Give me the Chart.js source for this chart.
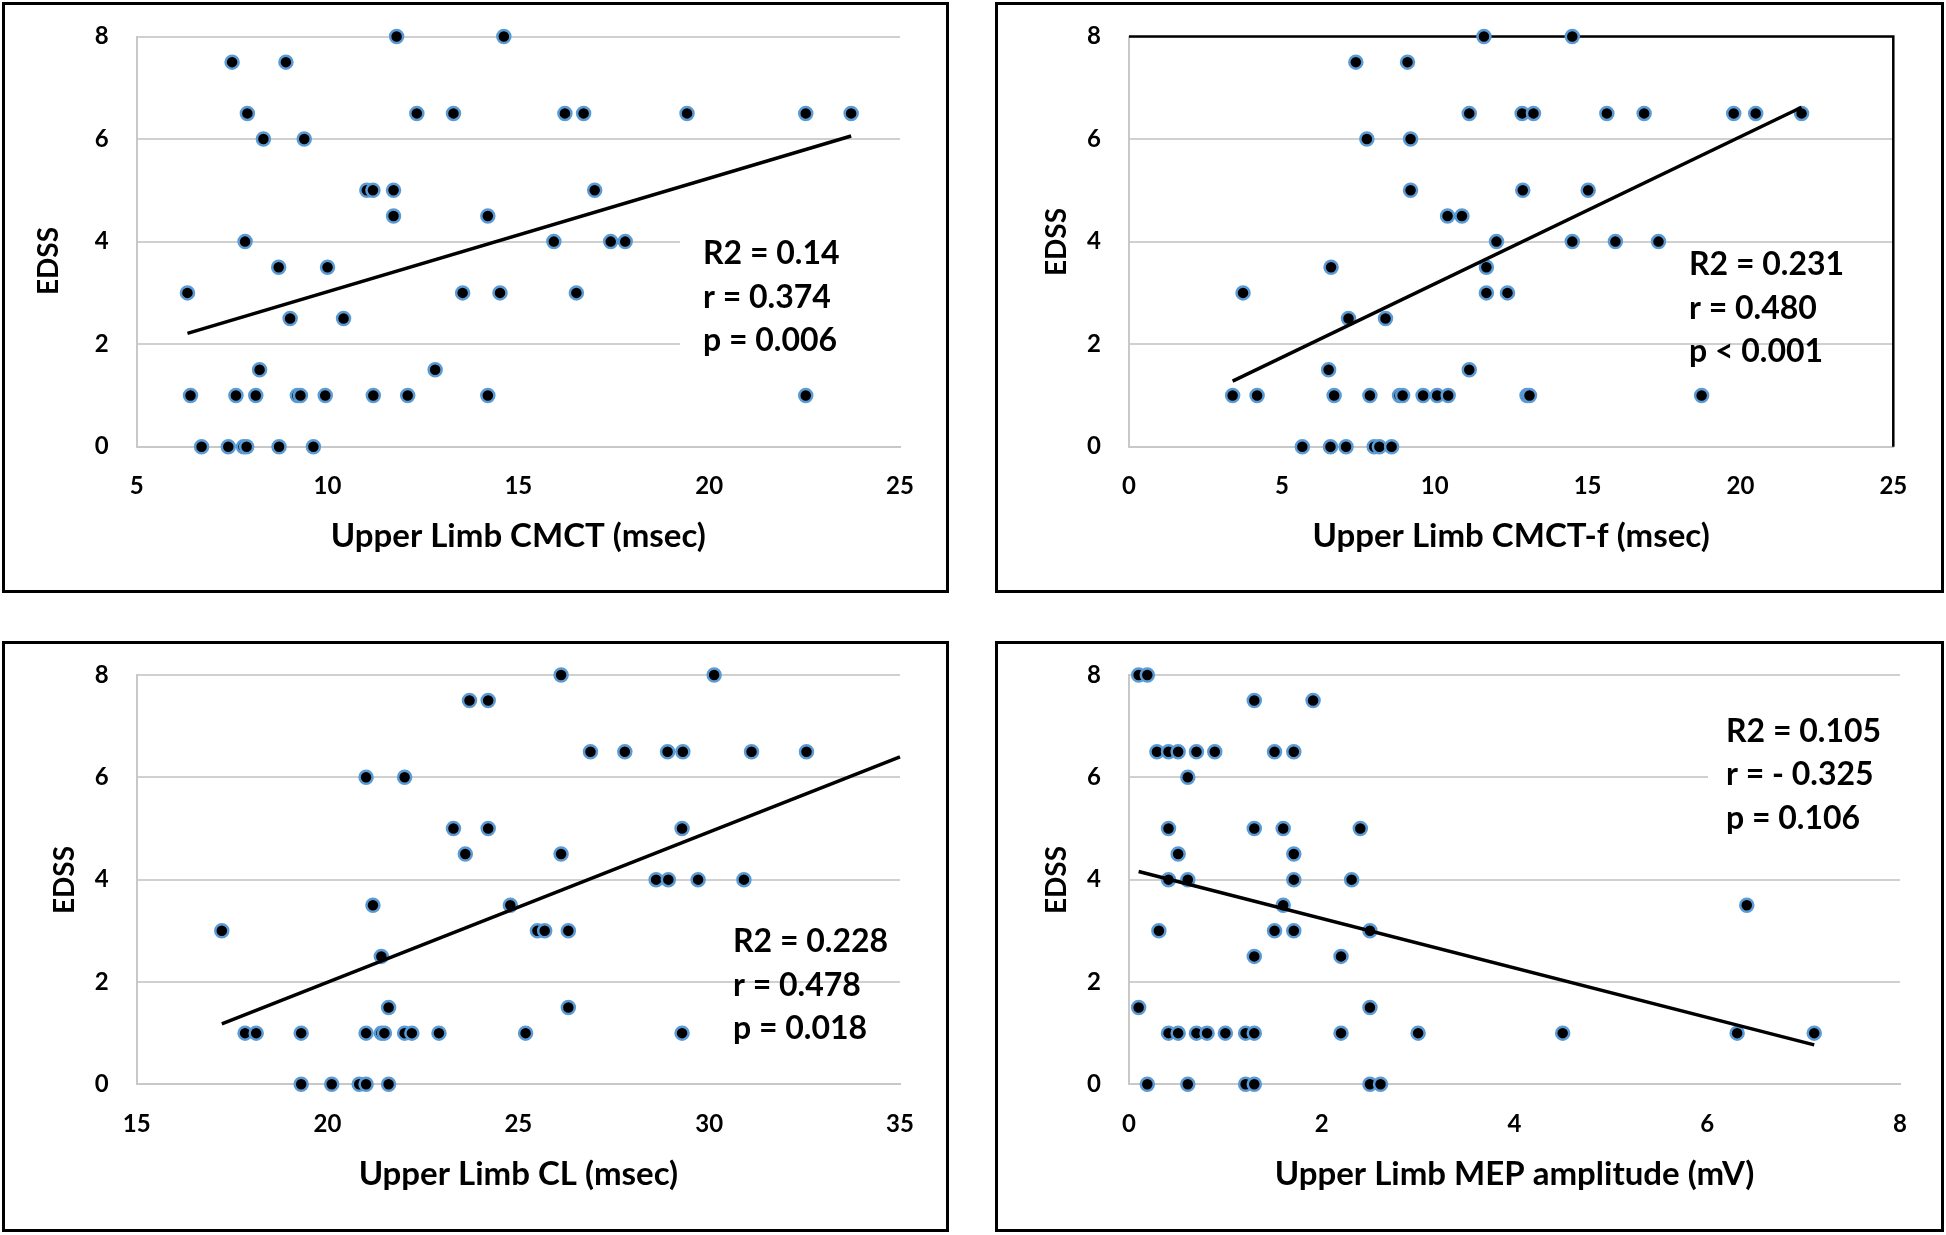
<!DOCTYPE html>
<html>
<head>
<meta charset="utf-8">
<script src="https://cdn.jsdelivr.net/npm/chart.js@4.4.1/dist/chart.umd.min.js"></script>
<style>
  html, body { margin: 0; padding: 0; background: #fff; }
  body { width: 1946px; height: 1235px; position: relative; overflow: hidden; }
  .panel { position: absolute; box-sizing: border-box; border: 3px solid #000; background: #fff; }
  .panel canvas { position: absolute; left: 0; top: 0; }
</style>
</head>
<body>
<div id="p1" class="panel"><canvas id="c1"></canvas></div>
<div id="p2" class="panel"><canvas id="c2"></canvas></div>
<div id="p3" class="panel"><canvas id="c3"></canvas></div>
<div id="p4" class="panel"><canvas id="c4"></canvas></div>
<script>
// ---------------- DATA ----------------
const yAxisTitle = "EDSS";

// Panel 1: Upper Limb CMCT
const cmctTitle = "Upper Limb CMCT (msec)";
const cmctX = [7.5, 8.91, 11.81, 14.62,
  7.9, 12.34, 13.3, 16.22, 16.71, 19.42, 22.53, 23.72,
  8.32, 9.39,
  11.03, 11.19, 11.73, 17.0,
  11.73, 14.2,
  7.84, 15.93, 17.42, 17.8,
  8.72, 10.0,
  6.33, 13.54, 14.52, 16.52,
  9.02, 10.42,
  8.22, 12.82,
  6.41, 7.6, 8.12, 9.21, 9.29, 9.94, 11.2, 12.1, 14.2, 22.53,
  6.7, 7.4, 7.8, 7.88, 8.73, 9.63];
const cmctEDSS = [7.5, 7.5, 8, 8,
  6.5, 6.5, 6.5, 6.5, 6.5, 6.5, 6.5, 6.5,
  6, 6,
  5, 5, 5, 5,
  4.5, 4.5,
  4, 4, 4, 4,
  3.5, 3.5,
  3, 3, 3, 3,
  2.5, 2.5,
  1.5, 1.5,
  1, 1, 1, 1, 1, 1, 1, 1, 1, 1,
  0, 0, 0, 0, 0, 0];
const cmctTrendX = [6.33, 23.72];
const cmctTrendY = [2.21, 6.06];
const cmctStats = ["R2 = 0.14", "r = 0.374", "p = 0.006"];

// Panel 2: Upper Limb CMCT-f
const cmctfTitle = "Upper Limb CMCT-f (msec)";
const cmctfX = [11.61, 14.5,
  7.42, 9.11,
  11.13, 12.86, 13.23, 15.63, 16.85, 19.78, 20.5, 22.0,
  7.78, 9.21,
  9.21, 12.88, 15.02,
  10.42, 10.89,
  12.02, 14.5, 15.91, 17.32,
  6.61, 11.69,
  3.73, 11.69, 12.38,
  7.18, 8.39,
  6.53, 11.13,
  3.39, 4.19, 6.71, 7.88, 8.85, 8.95, 9.62, 10.08, 10.44, 13.02, 13.1, 18.73,
  5.67, 6.59, 7.1, 8.02, 8.19, 8.59];
const cmctfEDSS = [8, 8,
  7.5, 7.5,
  6.5, 6.5, 6.5, 6.5, 6.5, 6.5, 6.5, 6.5,
  6, 6,
  5, 5, 5,
  4.5, 4.5,
  4, 4, 4, 4,
  3.5, 3.5,
  3, 3, 3,
  2.5, 2.5,
  1.5, 1.5,
  1, 1, 1, 1, 1, 1, 1, 1, 1, 1, 1, 1,
  0, 0, 0, 0, 0, 0];
const cmctfTrendX = [3.39, 22.0];
const cmctfTrendY = [1.28, 6.62];
const cmctfStats = ["R2 = 0.231", "r = 0.480", "p < 0.001"];

// Panel 3: Upper Limb CL
const clTitle = "Upper Limb CL (msec)";
const clX = [26.12, 30.13, 23.72, 24.21,
  26.89, 27.79, 28.91, 29.31, 31.11, 32.55,
  21.01, 22.02,
  23.3, 24.21, 29.29,
  23.61, 26.12,
  28.61, 28.93, 29.71, 30.91,
  21.19, 24.79,
  17.23, 25.5, 25.69, 26.31,
  21.41,
  21.6, 26.31,
  17.84, 18.13, 19.31, 21.01, 21.41, 21.49, 22.02, 22.21, 22.92, 25.19, 29.29,
  19.31, 20.11, 20.83, 21.01, 21.6];
const clEDSS = [8, 8, 7.5, 7.5,
  6.5, 6.5, 6.5, 6.5, 6.5, 6.5,
  6, 6,
  5, 5, 5,
  4.5, 4.5,
  4, 4, 4, 4,
  3.5, 3.5,
  3, 3, 3, 3,
  2.5,
  1.5, 1.5,
  1, 1, 1, 1, 1, 1, 1, 1, 1, 1, 1,
  0, 0, 0, 0, 0];
const clTrendX = [17.23, 35];
const clTrendY = [1.18, 6.40];
const clStats = ["R2 = 0.228", "r = 0.478", "p = 0.018"];

// Panel 4: Upper Limb MEP amplitude
const mepTitle = "Upper Limb MEP amplitude (mV)";
const mepX = [0.10, 0.19, 1.30, 1.91,
  0.29, 0.41, 0.51, 0.70, 0.89, 1.51, 1.71,
  0.61,
  0.41, 1.30, 1.60, 2.40,
  0.51, 1.71,
  0.41, 0.61, 1.71, 2.31,
  1.60, 6.41,
  0.31, 1.51, 1.71, 2.50,
  1.30, 2.20,
  0.10, 2.50,
  0.41, 0.51, 0.70, 0.81, 1.00, 1.21, 1.30, 2.20, 3.0, 4.50, 6.31, 7.11,
  0.19, 0.61, 1.21, 1.30, 2.50, 2.61];
const mepEDSS = [8, 8, 7.5, 7.5,
  6.5, 6.5, 6.5, 6.5, 6.5, 6.5, 6.5,
  6,
  5, 5, 5, 5,
  4.5, 4.5,
  4, 4, 4, 4,
  3.5, 3.5,
  3, 3, 3, 3,
  2.5, 2.5,
  1.5, 1.5,
  1, 1, 1, 1, 1, 1, 1, 1, 1, 1, 1, 1,
  0, 0, 0, 0, 0, 0];
const mepTrendX = [0.10, 7.11];
const mepTrendY = [4.16, 0.77];
const mepStats = ["R2 = 0.105", "r = - 0.325", "p = 0.106"];

// y-axis ticks shared by all panels
const yMin = 0, yMax = 8, yStep = 2;

// ---------------- LAYOUT / STYLE ----------------
const FONT = "Lato, 'Open Sans', 'DejaVu Sans', sans-serif";
const BORDER = 3;
const TICK_SIZE = 24, TITLE_SIZE = 33, STAT_SIZE = 32, YTITLE_SIZE = 28;
const panels = [
  { id: 'c1', div: 'p1', xs: cmctX, ys: cmctEDSS, tx: cmctTrendX, ty: cmctTrendY,
    xMin: 5, xMax: 25, xStep: 5, xTitle: cmctTitle, stats: cmctStats,
    box: [2, 2, 949, 593], area: [136.7, 36.5, 900, 446.7],
    yTitlePos: [49, 261], statPos: [703, 254], mask: [680, 226, 903, 364], frame: false },
  { id: 'c2', div: 'p2', xs: cmctfX, ys: cmctfEDSS, tx: cmctfTrendX, ty: cmctfTrendY,
    xMin: 0, xMax: 25, xStep: 5, xTitle: cmctfTitle, stats: cmctfStats,
    box: [995, 2, 1944, 593], area: [1129, 36.5, 1893.3, 446.7],
    yTitlePos: [1057, 242], statPos: [1689, 265], mask: null, frame: true },
  { id: 'c3', div: 'p3', xs: clX, ys: clEDSS, tx: clTrendX, ty: clTrendY,
    xMin: 15, xMax: 35, xStep: 5, xTitle: clTitle, stats: clStats,
    box: [2, 641, 949, 1232], area: [136.7, 675, 900, 1084.3],
    yTitlePos: [64.5, 880], statPos: [733, 942], mask: null, frame: false },
  { id: 'c4', div: 'p4', xs: mepX, ys: mepEDSS, tx: mepTrendX, ty: mepTrendY,
    xMin: 0, xMax: 8, xStep: 2, xTitle: mepTitle, stats: mepStats,
    box: [995, 641, 1944, 1232], area: [1129, 675, 1900, 1084.3],
    yTitlePos: [1057, 880], statPos: [1726, 731.5], mask: [1708, 704, 1903, 850], frame: false }
];

const extrasPlugin = {
  id: 'extras',
  beforeDatasetsDraw(chart, args, opts) {
    const ctx = chart.ctx;
    const a = chart.chartArea;
    ctx.save();
    if (opts.mask) {
      const m = opts.mask;
      ctx.fillStyle = '#ffffff';
      ctx.fillRect(m[0] - opts.ox, m[1] - opts.oy, m[2] - m[0], m[3] - m[1]);
    }
    if (opts.frame) {
      ctx.strokeStyle = '#000';
      ctx.lineWidth = 2.5;
      ctx.beginPath();
      ctx.moveTo(a.left, a.top);
      ctx.lineTo(a.right, a.top);
      ctx.lineTo(a.right, a.bottom);
      ctx.stroke();
    }
    ctx.restore();
  },
  afterDraw(chart, args, opts) {
    const ctx = chart.ctx;
    ctx.save();
    ctx.fillStyle = '#000';
    ctx.font = "bold " + YTITLE_SIZE + "px " + FONT;
    ctx.textAlign = 'center';
    ctx.textBaseline = 'middle';
    ctx.translate(opts.yTitlePos[0] - opts.ox, opts.yTitlePos[1] - opts.oy);
    ctx.rotate(-Math.PI / 2);
    ctx.fillText(opts.yTitle, 0, 0);
    ctx.restore();
    ctx.save();
    ctx.fillStyle = '#000';
    ctx.font = "bold " + STAT_SIZE + "px " + FONT;
    ctx.textAlign = 'left';
    ctx.textBaseline = 'middle';
    opts.stats.forEach((s, i) => {
      ctx.fillText(s, opts.statPos[0] - opts.ox, opts.statPos[1] - opts.oy + i * 43.5);
    });
    ctx.restore();
  }
};

panels.forEach(p => {
  const [x0, y0, x1, y1] = p.box;
  const div = document.getElementById(p.div);
  div.style.left = x0 + 'px';
  div.style.top = y0 + 'px';
  div.style.width = (x1 - x0) + 'px';
  div.style.height = (y1 - y0) + 'px';
  const cx = x0 + BORDER, cy = y0 + BORDER;
  const cw = (x1 - x0) - 2 * BORDER, ch = (y1 - y0) - 2 * BORDER;
  const canvas = document.getElementById(p.id);
  canvas.width = cw; canvas.height = ch;
  canvas.style.width = cw + 'px'; canvas.style.height = ch + 'px';
  const [L, T, R, B] = p.area;
  const want = { left: L - cx, top: T - cy, right: R - cx, bottom: B - cy };
  const fit = { yW: want.left, xH: ch - want.bottom };
  const pad = { left: 0, bottom: 0, top: want.top, right: cw - want.right };
  const titleCenter = B + 90 - cy;
  const titleLH = 1.2;
  const titlePadBottom = (ch - titleCenter) - TITLE_SIZE * titleLH / 2;
  const tickLH = 1.2;
  const tickPad = 39.5 - TICK_SIZE * tickLH / 2;

  const points = p.xs.map((x, i) => ({ x: x, y: p.ys[i] }));
  const trend = p.tx.map((x, i) => ({ x: x, y: p.ty[i] }));

  const chart = new Chart(canvas, {
    type: 'scatter',
    data: {
      datasets: [
        { label: 'trend', data: trend, showLine: true, borderColor: '#000', borderWidth: 3.5,
          pointRadius: 0, pointHoverRadius: 0, order: 0, fill: false, clip: 10 },
        { label: 'EDSS', data: points, backgroundColor: '#000', borderColor: '#5b9bd5',
          borderWidth: 2.5, pointRadius: 6.5, pointHoverRadius: 6.5, order: 1, clip: 12 }
      ]
    },
    options: {
      responsive: false,
      animation: false,
      devicePixelRatio: 1,
      layout: { autoPadding: false, padding: pad },
      plugins: {
        legend: { display: false },
        tooltip: { enabled: false },
        extras: { ox: cx, oy: cy, mask: p.mask, frame: p.frame, yTitle: yAxisTitle,
                  yTitlePos: p.yTitlePos, stats: p.stats, statPos: p.statPos }
      },
      scales: {
        x: {
          type: 'linear', min: p.xMin, max: p.xMax,
          ticks: { stepSize: p.xStep, padding: tickPad, color: '#000',
                   font: { family: FONT, size: TICK_SIZE, weight: 'bold', lineHeight: tickLH } },
          grid: { display: false, drawTicks: false },
          border: { display: true, color: '#c8c8c8', width: 2 },
          title: { display: true, text: p.xTitle, color: '#000',
                   font: { family: FONT, size: TITLE_SIZE, weight: 'bold', lineHeight: titleLH },
                   padding: { top: 0, bottom: titlePadBottom } },
          afterFit(scale) { scale.height = fit.xH; }
        },
        y: {
          type: 'linear', min: yMin, max: yMax,
          // gap between labels and axis comes from an invisible tick mark, so it does not
          // inflate the vertical padding of the scale
          ticks: { stepSize: yStep, padding: 0, color: '#000',
                   font: { family: FONT, size: TICK_SIZE, weight: 'bold', lineHeight: tickLH } },
          grid: { display: true, drawTicks: true, tickLength: 28, tickColor: 'rgba(0,0,0,0)',
                  color: '#d0d0d0', lineWidth: 2 },
          border: { display: true, color: '#c8c8c8', width: 2 },
          afterFit(scale) { scale.width = fit.yW; }
        }
      }
    },
    plugins: [extrasPlugin]
  });

  for (let k = 0; k < 4; k++) {
    const a = chart.chartArea;
    if (!a) break;
    const dT = want.top - a.top, dB = want.bottom - a.bottom;
    const dL = want.left - a.left, dR = want.right - a.right;
    if (Math.abs(dT) < 0.3 && Math.abs(dB) < 0.3 && Math.abs(dL) < 0.3 && Math.abs(dR) < 0.3) break;
    pad.top = Math.max(0, pad.top + dT);
    pad.right = Math.max(0, pad.right - dR);
    fit.xH -= dB;
    fit.yW += dL;
    chart.update('none');
  }
});
</script>
</body>
</html>
